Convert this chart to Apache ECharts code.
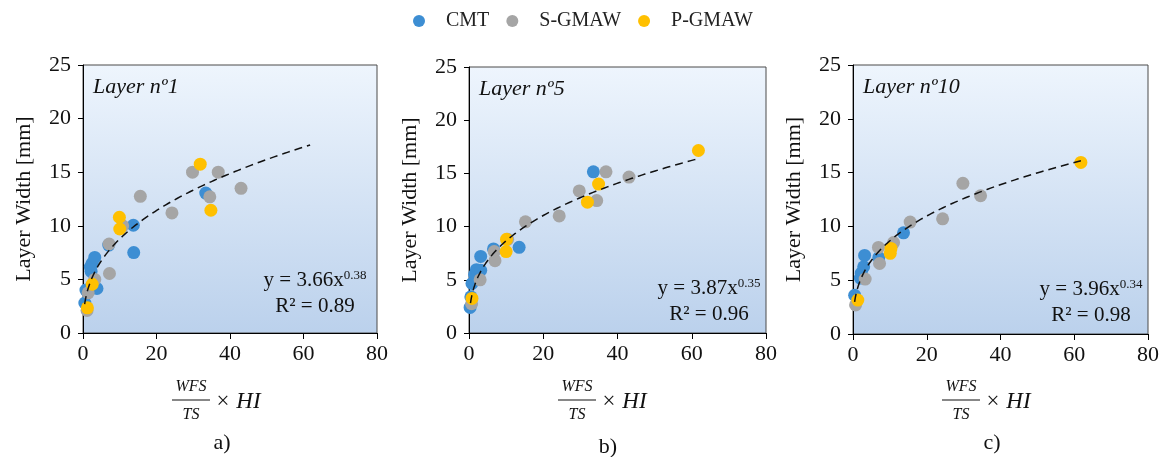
<!DOCTYPE html>
<html>
<head>
<meta charset="utf-8">
<title>Layer width vs WFS/TS × HI</title>
<script src="https://cdn.jsdelivr.net/npm/echarts@6/dist/echarts.min.js"></script>
<style>
  html, body { margin: 0; padding: 0; background: #ffffff; }
  #chart { width: 1167px; height: 457px; }
</style>
</head>
<body>
<div id="chart"></div>
<script>
// Series names
const seriesNames = ['CMT', 'S-GMAW', 'P-GMAW'];
const seriesColors = ['#3d8ed3', '#a5a5a5', '#ffc000'];

// Panel titles and captions
const layerTitles = ['Layer nº1', 'Layer nº5', 'Layer nº10'];
const panelCaptions = ['a)', 'b)', 'c)'];

// Axis ticks
const xTicks = [0, 20, 40, 60, 80];
const yTicks = [0, 5, 10, 15, 20, 25];

// Layer nº1 measurements [WFS/TS × HI, width mm]
const layer1Cmt = [[0.5, 2.8], [0.8, 4.0], [3.8, 4.15], [2.2, 5.75], [2.0, 6.15], [2.5, 6.5], [3.2, 7.05], [7.0, 8.2], [13.7, 10.05], [13.8, 7.5], [33.4, 13.05]];
const layer1Sgmaw = [[1.1, 2.1], [1.4, 3.75], [3.2, 5.0], [7.2, 5.55], [7.1, 8.3], [10.8, 10.0], [15.6, 12.75], [24.2, 11.2], [29.8, 15.0], [36.8, 15.0], [34.5, 12.7], [43.0, 13.5]];
const layer1Pgmaw = [[1.2, 2.35], [2.5, 4.55], [10.0, 9.7], [9.9, 10.8], [31.9, 15.75], [34.8, 11.45]];

// Layer nº5 measurements
const layer5Cmt = [[0.3, 2.4], [0.5, 3.4], [0.8, 4.65], [1.5, 5.5], [2.0, 5.95], [3.15, 5.9], [3.15, 7.2], [6.6, 7.9], [13.5, 8.05], [33.5, 15.15]];
const layer5Sgmaw = [[0.7, 2.75], [3.0, 5.0], [7.0, 6.8], [6.8, 7.65], [10.4, 8.8], [15.2, 10.45], [24.3, 11.0], [29.7, 13.35], [34.4, 12.45], [36.9, 15.15], [43.1, 14.65]];
const layer5Pgmaw = [[0.8, 3.25], [10.0, 7.65], [10.1, 8.8], [31.9, 12.3], [34.9, 14.0], [61.8, 17.15]];

// Layer nº10 measurements
const layer10Cmt = [[0.45, 3.6], [2.0, 5.2], [2.25, 5.65], [2.9, 6.25], [3.15, 7.3], [7.0, 7.1], [13.7, 9.4]];
const layer10Sgmaw = [[0.7, 2.7], [3.3, 5.1], [7.2, 6.55], [6.9, 8.05], [11.0, 8.5], [15.5, 10.4], [24.3, 10.7], [29.8, 14.0], [34.6, 12.85]];
const layer10Pgmaw = [[1.3, 3.15], [10.1, 7.5], [10.3, 7.95], [61.8, 15.95]];

// Power-law fits y = a·x^b with R², and the x range they span
const fitA = [3.66, 3.87, 3.96];
const fitB = [0.38, 0.35, 0.34];
const fitR2 = ['0.89', '0.96', '0.98'];
const fitStart = [0.45, 0.4, 0.44];
const fitEnd = [61.8, 61.8, 61.8];

const panelData = [
  [layer1Cmt, layer1Sgmaw, layer1Pgmaw],
  [layer5Cmt, layer5Sgmaw, layer5Pgmaw],
  [layer10Cmt, layer10Sgmaw, layer10Pgmaw]
];

// Plot rectangles for the three panels
const grids = [
  { left: 83, top: 65, width: 294, height: 268 },
  { left: 469, top: 67, width: 297, height: 266 },
  { left: 853, top: 65, width: 295, height: 269 }
];

const serif = '"Liberation Serif", "Times New Roman", serif';

function fitCurve(i) {
  const pts = [];
  const n = 120;
  const x0 = fitStart[i], x1 = fitEnd[i];
  for (let k = 0; k <= n; k++) {
    // denser sampling near zero where the curve bends sharply
    const t = k / n;
    const x = x0 + (x1 - x0) * t * t;
    pts.push([x, fitA[i] * Math.pow(x, fitB[i])]);
  }
  return pts;
}

const gridOpts = grids.map(g => ({
  left: g.left, top: g.top, width: g.width, height: g.height,
  show: true,
  borderColor: '#4a4a4a',
  borderWidth: 1,
  backgroundColor: new echarts.graphic.LinearGradient(0, 0, 0, 1, [
    { offset: 0, color: '#eef5fd' },
    { offset: 1, color: '#bbd1ec' }
  ])
}));

const xAxes = grids.map((g, i) => ({
  gridIndex: i,
  type: 'value',
  min: xTicks[0], max: xTicks[xTicks.length - 1], interval: xTicks[1] - xTicks[0],
  axisLine: { show: true, onZero: false, lineStyle: { color: '#000', width: 1 } },
  axisTick: { show: true, length: 6, lineStyle: { color: '#000' } },
  axisLabel: { color: '#111', fontFamily: serif, fontSize: 22, margin: 10 },
  splitLine: { show: false }
}));

const yAxes = grids.map((g, i) => ({
  gridIndex: i,
  type: 'value',
  min: yTicks[0], max: yTicks[yTicks.length - 1], interval: yTicks[1] - yTicks[0],
  name: 'Layer Width [mm]',
  nameLocation: 'middle',
  nameGap: 48,
  nameTextStyle: { color: '#111', fontFamily: serif, fontSize: 22 },
  axisLine: { show: true, onZero: false, lineStyle: { color: '#000', width: 1 } },
  axisTick: { show: true, length: 5, lineStyle: { color: '#000' } },
  axisLabel: { color: '#111', fontFamily: serif, fontSize: 22, margin: 12 },
  splitLine: { show: false }
}));

const series = [];
panelData.forEach((groups, i) => {
  groups.forEach((pts, s) => {
    series.push({
      name: seriesNames[s],
      type: 'scatter',
      xAxisIndex: i, yAxisIndex: i,
      data: pts,
      symbol: 'circle',
      symbolSize: 13,
      itemStyle: { color: seriesColors[s], opacity: 1 },
      z: 2 + s
    });
  });
  series.push({
    name: 'fit' + i,
    type: 'line',
    xAxisIndex: i, yAxisIndex: i,
    data: fitCurve(i),
    showSymbol: false,
    smooth: false,
    lineStyle: { color: '#111', width: 1.5, type: [8, 5] },
    z: 10,
    silent: true
  });
});

// Text annotations: layer title, fit equation, axis name fraction, caption
const graphics = [];
grids.forEach((g, i) => {
  const right = g.left + g.width;
  const bottom = g.top + g.height;
  graphics.push({
    type: 'text', left: g.left + 10, top: g.top + 11, z: 20,
    style: { text: layerTitles[i], fill: '#111', font: 'italic 22px ' + serif }
  });
  const eqX = right - (i === 0 ? 62 : 57);
  const eqY = bottom - (i === 0 ? 53 : 45);
  graphics.push({
    type: 'text', x: eqX, y: eqY, z: 20,
    style: {
      text: '{m|y = ' + fitA[i].toFixed(2) + 'x}{s|' + fitB[i].toFixed(2) + '}',
      align: 'center', verticalAlign: 'middle',
      rich: {
        m: { fontFamily: serif, fontSize: 21, fill: '#111', lineHeight: 22, verticalAlign: 'bottom' },
        s: { fontFamily: serif, fontSize: 13, fill: '#111', lineHeight: 22, verticalAlign: 'top' }
      }
    }
  });
  graphics.push({
    type: 'text', x: eqX, y: eqY + 26, z: 20,
    style: { text: 'R² = ' + fitR2[i], fill: '#111', font: '21px ' + serif, align: 'center', verticalAlign: 'middle' }
  });

  // x-axis name drawn as a fraction: WFS over TS, times HI
  const fx = g.left + 108;
  const fy = 400;
  graphics.push({
    type: 'text', x: fx, y: fy - 13, z: 20,
    style: { text: 'WFS', fill: '#111', font: 'italic 16px ' + serif, align: 'center', verticalAlign: 'middle' }
  });
  graphics.push({
    type: 'line', z: 20,
    shape: { x1: fx - 19, y1: fy, x2: fx + 19, y2: fy },
    style: { stroke: '#111', lineWidth: 1 }
  });
  graphics.push({
    type: 'text', x: fx, y: fy + 15, z: 20,
    style: { text: 'TS', fill: '#111', font: 'italic 16px ' + serif, align: 'center', verticalAlign: 'middle' }
  });
  graphics.push({
    type: 'text', x: fx + 24, y: fy + 2, z: 20,
    style: { text: '× HI', fill: '#111', font: 'italic 23px ' + serif, align: 'left', verticalAlign: 'middle' }
  });
  graphics.push({
    type: 'text', x: g.left + 139, y: i === 1 ? 447 : 443, z: 20,
    style: { text: panelCaptions[i], fill: '#111', font: '22px ' + serif, align: 'center', verticalAlign: 'middle' }
  });
});

const chart = echarts.init(document.getElementById('chart'), null, { renderer: 'canvas' });
chart.setOption({
  animation: false,
  backgroundColor: '#ffffff',
  legend: {
    data: seriesNames,
    left: 408,
    top: 6,
    icon: 'circle',
    itemWidth: 44,
    itemHeight: 12,
    itemGap: 17,
    textStyle: { color: '#222', fontFamily: serif, fontSize: 20 }
  },
  grid: gridOpts,
  xAxis: xAxes,
  yAxis: yAxes,
  series: series,
  graphic: graphics
});
</script>
</body>
</html>
